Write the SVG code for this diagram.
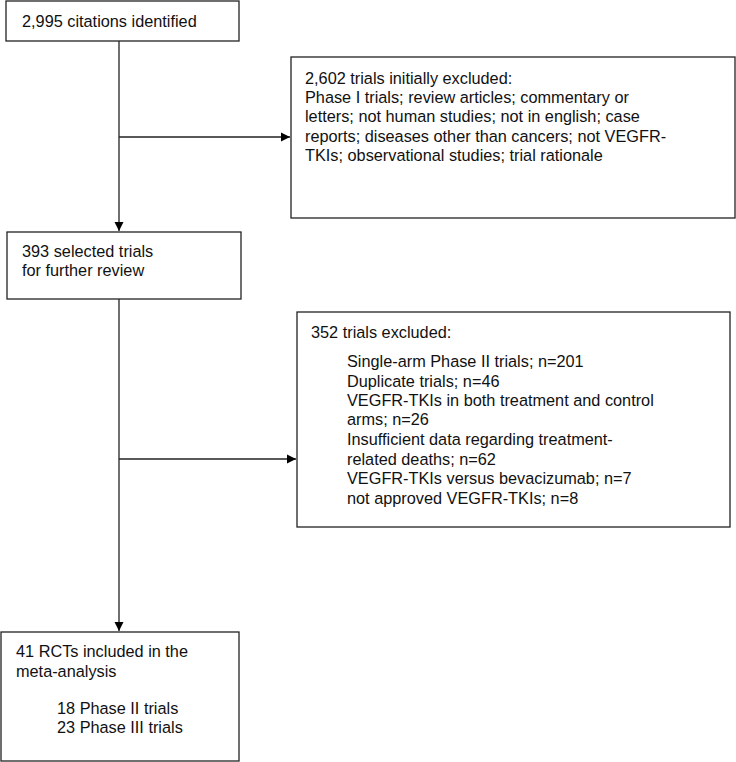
<svg xmlns="http://www.w3.org/2000/svg" width="736" height="762" viewBox="0 0 736 762">
<style>
.box{fill:#fff;stroke:#222;stroke-width:1.3}
text{font-family:"Liberation Sans",Arial,sans-serif;font-size:16.3px;fill:#111}
.c{stroke:#222;stroke-width:1.3;fill:none}
</style>
<defs>
<marker id="ah" markerWidth="10" markerHeight="10" refX="9" refY="5" orient="auto" markerUnits="userSpaceOnUse">
<path d="M0,0.5 L9,5 L0,9.5 Z" fill="#000"/>
</marker>
</defs>
<rect width="736" height="762" fill="#fff"/>
<g id="connectors">
<line class="c" x1="119" y1="41" x2="119" y2="231" marker-end="url(#ah)"/>
<line class="c" x1="119" y1="137" x2="290" y2="137" marker-end="url(#ah)"/>
<line class="c" x1="119" y1="299" x2="119" y2="631" marker-end="url(#ah)"/>
<line class="c" x1="119" y1="459" x2="296" y2="459" marker-end="url(#ah)"/>
</g>
<g id="n1">
<rect class="box" x="6" y="1" width="233" height="40"/>
<text x="22" y="27">2,995 citations identified</text>
</g>
<g id="n2">
<rect class="box" x="291" y="57" width="444" height="161"/>
<text x="305" y="84">2,602 trials initially excluded:</text>
<text x="305" y="103">Phase I trials; review articles; commentary or</text>
<text x="305" y="122">letters; not human studies; not in english; case</text>
<text x="305" y="142">reports; diseases other than cancers; not VEGFR-</text>
<text x="305" y="161">TKIs; observational studies; trial rationale</text>
</g>
<g id="n3">
<rect class="box" x="7" y="232" width="234" height="67"/>
<text x="22" y="257">393 selected trials</text>
<text x="22" y="276">for further review</text>
</g>
<g id="n4">
<rect class="box" x="297" y="312" width="433" height="215"/>
<text x="311" y="338">352 trials excluded:</text>
<text x="347" y="367">Single-arm Phase II trials; n=201</text>
<text x="347" y="387">Duplicate trials; n=46</text>
<text x="347" y="406">VEGFR-TKIs in both treatment and control</text>
<text x="347" y="425">arms; n=26</text>
<text x="347" y="445">Insufficient data regarding treatment-</text>
<text x="347" y="465">related deaths; n=62</text>
<text x="347" y="484">VEGFR-TKIs versus bevacizumab; n=7</text>
<text x="347" y="504">not approved VEGFR-TKIs; n=8</text>
</g>
<g id="n5">
<rect class="box" x="1" y="632" width="238" height="129"/>
<text x="16" y="657">41 RCTs included in the</text>
<text x="16" y="677">meta-analysis</text>
<text x="57" y="714">18 Phase II trials</text>
<text x="57" y="733">23 Phase III trials</text>
</g>
</svg>
